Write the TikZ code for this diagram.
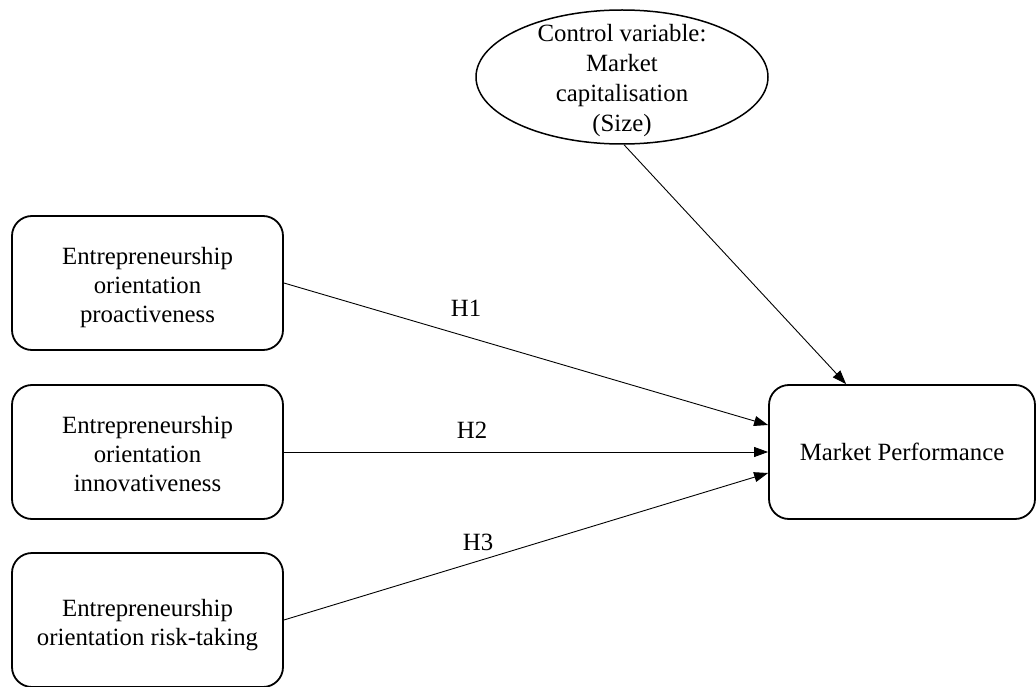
\documentclass[tikz,border=0pt]{standalone}
\usepackage{fontspec}
\setmainfont{Liberation Serif}
\usetikzlibrary{arrows.meta,calc,shapes.geometric}
\newcommand\boxtext[1]{\raisebox{-5pt}[\height][\depth]{\begin{tabular}{@{}c@{}}#1\end{tabular}}}
\tikzset{
  box/.style={draw, line width=1.8pt, rounded corners=20pt, minimum width=271pt, minimum height=134pt, inner sep=0pt, align=center, font=\fontsize{24.8}{29}\selectfont},
  mpbox/.style={box, minimum width=266pt},
  ctrl/.style={draw, ellipse, line width=1.5pt, minimum width=292pt, minimum height=134pt, inner sep=0pt},
  ctrltext/.style={align=center, font=\fontsize{24.8}{30}\selectfont, inner sep=0pt, yshift=-4pt},
  arr/.style={line width=0.9pt, -{Triangle[length=14pt,width=10pt]}},
  hlab/.style={font=\fontsize{24.8}{29}\selectfont, inner sep=0pt}
}
\begin{document}
\begin{tikzpicture}[x=1pt,y=-1pt]
\useasboundingbox (0,0) rectangle (1036,687);
\node[box] (b1) at (147.5,283) {\boxtext{Entrepreneurship\\orientation\\proactiveness}};
\node[box] (b2) at (147.5,452) {\boxtext{Entrepreneurship\\orientation\\innovativeness}};
\node[box] (b3) at (147.5,620) {\boxtext{Entrepreneurship\\orientation risk-taking}};
\node[mpbox] (mp) at (902,452) {Market Performance};
\node[ctrl, label={[ctrltext]center:{Control variable:\\Market\\capitalisation\\(Size)}}] (ell) at (622,77) {};
\draw[arr] (b1.east) -- ([yshift=27pt]mp.west);
\draw[arr] (b2.east) -- (mp.west);
\draw[arr] (b3.east) -- ([yshift=-21pt]mp.west);
\draw[arr] ([xshift=2pt]ell.south) -- ([xshift=78pt]mp.north west);
\node[hlab] (h1) at (466,308) {H1};
\node[hlab] (h2) at (472,430) {H2};
\node[hlab] (h3) at (478,542) {H3};
\end{tikzpicture}
\end{document}
